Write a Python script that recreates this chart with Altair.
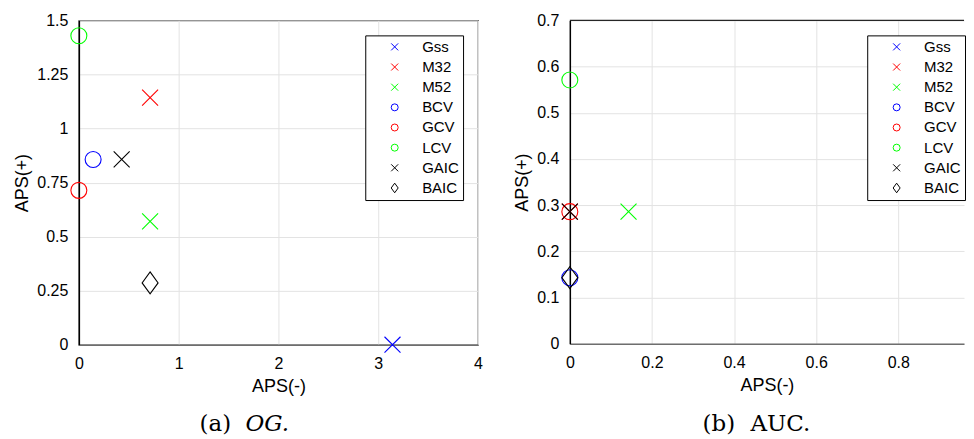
import altair as alt
import pandas as pd

# ---- data ----
series = ["Gss", "M32", "M52", "BCV", "GCV", "LCV", "GAIC", "BAIC"]
colors = ["#0000ff", "#ff0000", "#00ff00", "#0000ff", "#ff0000", "#00ff00", "#000000", "#000000"]

og_neg = [3.143, 0.714, 0.714, 0.143, 0.0, 0.0, 0.429, 0.714]
og_pos = [0.0, 1.143, 0.571, 0.857, 0.714, 1.429, 0.857, 0.286]

auc_neg = [1.0, 0.0, 0.143, 0.0, 0.0, 0.0, 0.0, 0.0]
auc_pos = [0.0, 0.286, 0.286, 0.143, 0.286, 0.571, 0.286, 0.143]

og_xticks = [0, 1, 2, 3, 4]
og_yticks = [0, 0.25, 0.5, 0.75, 1, 1.25, 1.5]
auc_xticks = [0, 0.2, 0.4, 0.6, 0.8]
auc_yticks = [0, 0.1, 0.2, 0.3, 0.4, 0.5, 0.6, 0.7]

X_PATH = "M-1,-1L1,1M-1,1L1,-1"
DIAMOND = "M0,-1.375L1,0L0,1.375L-1,0Z"
shapes = [X_PATH, X_PATH, X_PATH, "circle", "circle", "circle", X_PATH, DIAMOND]
legend_sizes = [49, 49, 49, 110, 110, 110, 49, 81]


def panel(xs, ys, xdom, xticks, ydom, yticks, width, height, legx, legy, captions, boxed):
    df = pd.DataFrame({"series": series, "neg": xs, "pos": ys})
    leg = alt.Legend(
        title=None, orient="none", legendX=legx, legendY=legy,
        strokeColor="black", fillColor="white", padding=4,
        symbolOffset=18, labelOffset=20, rowPadding=4.2,
        labelFont="Liberation Sans", labelFontSize=15, labelColor="black",
        symbolStrokeWidth=1, symbolOpacity=1,
    )
    cscale = alt.Scale(domain=series, range=colors)
    sscale = alt.Scale(domain=series, range=shapes)
    zscale = alt.Scale(domain=series, range=legend_sizes)

    pts = alt.Chart(df).transform_filter(
        f"datum.neg <= {xdom[1]}"
    ).mark_point(filled=False, strokeWidth=1.1, size=256, opacity=1).encode(
        x=alt.X("neg:Q", title="APS(-)", scale=alt.Scale(domain=xdom, nice=False, zero=False),
                axis=alt.Axis(values=xticks, labelExpr="'' + datum.value")),
        y=alt.Y("pos:Q", title="APS(+)", scale=alt.Scale(domain=ydom, nice=False, zero=False),
                axis=alt.Axis(values=yticks, labelExpr="'' + datum.value")),
        color=alt.Color("series:N", scale=cscale, legend=leg),
        shape=alt.Shape("series:N", scale=sscale, legend=leg),
    )
    legend_layer = alt.Chart(df).transform_filter("false").mark_point(
        filled=False, strokeWidth=1, opacity=1
    ).encode(
        color=alt.Color("series:N", scale=cscale, legend=leg),
        shape=alt.Shape("series:N", scale=sscale, legend=leg),
        size=alt.Size("series:N", scale=zscale, legend=leg),
    )
    layers = [pts, legend_layer]
    if not boxed:
        layers.append(
            alt.Chart(pd.DataFrame({"t": [0]})).mark_rule(color="#262626", strokeWidth=1.2).encode(
                x=alt.value(0), x2=alt.value(width), y=alt.value(0)
            )
        )
    for txt, xpos, italic in captions:
        layers.append(
            alt.Chart(pd.DataFrame({"t": [txt]})).mark_text(
                align="left", baseline="alphabetic", font="DejaVu Serif",
                fontSize=23, color="black", fontStyle="italic" if italic else "normal",
            ).encode(x=alt.value(xpos), y=alt.value(411), text="t:N")
        )
    ch = alt.layer(*layers).properties(width=width, height=height)
    if not boxed:
        ch = ch.properties(view=alt.ViewBackground(stroke=None))
    return ch


left = panel(og_neg, og_pos, [0, 4], og_xticks, [0, 1.5], og_yticks, 400, 325, 287, 15,
             [("(a)", 121, False), ("OG.", 167, True)], True)
right = panel(auc_neg, auc_pos, [0, 0.96], auc_xticks, [0, 0.7], auc_yticks, 395, 324, 298, 15,
              [("(b)", 133, False), ("AUC.", 181, False)], False)

chart = alt.hconcat(left, right, spacing=29).resolve_scale(
    color="independent", shape="independent", size="independent"
).resolve_legend(
    color="independent", shape="independent", size="independent"
).properties(
    padding={"left": 5, "top": 3, "right": 0, "bottom": 0}
).configure_axis(
    grid=True, gridColor="#e3e3e3", gridWidth=1, ticks=False,
    labelFont="Liberation Sans", labelFontSize=16, labelColor="black", labelFlush=False,
    titleFont="Liberation Sans", titleFontSize=18, titleFontWeight="normal", titleColor="black",
    domainWidth=1.5,
).configure_axisX(
    domainColor="#6e6e6e", labelPadding=11, titlePadding=6,
).configure_axisY(
    domainColor="black", labelPadding=11, titlePadding=5,
).configure_view(
    stroke="#262626", strokeWidth=1.2,
)

chart.save("out.html", embed_options={"renderer": "svg", "actions": False})
